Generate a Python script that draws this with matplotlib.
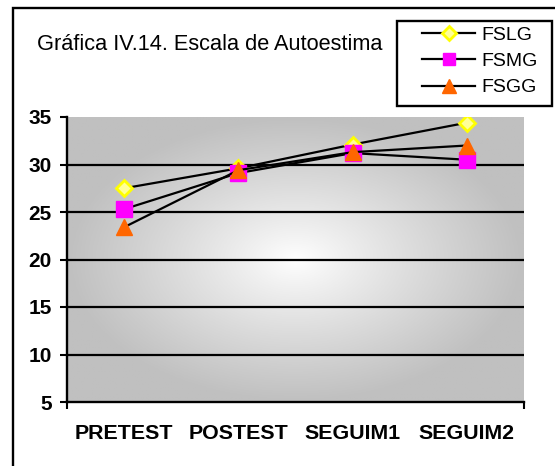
import numpy as np
import matplotlib
matplotlib.use("Agg")
import matplotlib.pyplot as plt
from matplotlib.patches import Rectangle
from matplotlib.colors import LinearSegmentedColormap

categories = ["PRETEST", "POSTEST", "SEGUIM1", "SEGUIM2"]
fslg = [27.5, 29.6, 32.1, 34.4]
fsmg = [25.3, 29.1, 31.2, 30.5]
fsgg = [23.4, 29.4, 31.3, 32.0]
yticks = [5, 10, 15, 20, 25, 30, 35]
title = "Gráfica IV.14. Escala de Autoestima"

plt.rcParams['font.family'] = ['Liberation Sans', 'DejaVu Sans']

W, H = 555, 466
fig = plt.figure(figsize=(W / 100, H / 100), dpi=100)

# outer frame (cut off at right and bottom)
fig.patches.append(Rectangle((12.5 / W, -0.1), 2.0, 1 - 8 / H + 0.1,
                             transform=fig.transFigure, fill=False,
                             edgecolor='black', linewidth=1.7))
# legend frame
fig.patches.append(Rectangle((397 / W, 1 - 106 / H), 155 / W, 85 / H,
                             transform=fig.transFigure, fill=False,
                             edgecolor='black', linewidth=1.7, zorder=5))

ax = fig.add_axes([67 / W, 1 - 402 / H, 457 / W, 285 / H])
x = np.arange(len(categories))
ax.set_xlim(-0.5, len(categories) - 0.5)
ax.set_ylim(5, 35)

# gradient background
nx, ny = 300, 200
gx, gy = np.meshgrid(np.linspace(-1, 1, nx), np.linspace(-1, 1, ny))
d = np.sqrt((gx * 1.0) ** 2 + (gy * 1.0) ** 2)
d = np.clip(d, 0, 1)
cmap = LinearSegmentedColormap.from_list("g", ["#FFFFFF", "#C0C0C0"])
ax.imshow(d ** 0.9, cmap=cmap, extent=[0, 1, 0, 1], transform=ax.transAxes,
          aspect='auto', zorder=0, vmin=0, vmax=1)

for yv in yticks[1:-1]:
    ax.axhline(yv, color='black', linewidth=1.6, zorder=1)

ax.plot(x, fslg, color='black', linewidth=1.6, marker='D', markersize=8.5,
        markerfacecolor='#FFFF99', markeredgecolor='#FFFF00', markeredgewidth=2,
        label='FSLG', zorder=3)
ax.plot(x, fsmg, color='black', linewidth=1.6, marker='s', markersize=11,
        markerfacecolor='#FF00FF', markeredgecolor='#FF00FF',
        label='FSMG', zorder=3)
ax.plot(x, fsgg, color='black', linewidth=1.6, marker='^', markersize=12,
        markerfacecolor='#FF6600', markeredgecolor='#FF6600',
        label='FSGG', zorder=3)

for s in ['top', 'right']:
    ax.spines[s].set_visible(False)
for s in ['left', 'bottom']:
    ax.spines[s].set_linewidth(1.7)
    ax.spines[s].set_zorder(4)

ax.set_yticks(yticks)
ax.set_yticklabels([str(v) for v in yticks], fontsize=15, fontweight='bold')
ax.tick_params(axis='y', direction='out', length=5, width=1.5, pad=6)

ax.set_xticks(x)
ax.set_xticklabels(categories, fontsize=15.4, fontweight='bold')
ax.tick_params(axis='x', which='major', length=0, pad=16)
ax.set_xticks([-0.5, len(categories) - 0.5], minor=True)
ax.tick_params(axis='x', which='minor', direction='out', length=5, width=1.5)

fig.text(37 / W, 1 - 45 / H, title, fontsize=15.7, ha='left', va='center')

handles, labels = ax.get_legend_handles_labels()
leg = fig.legend(handles, labels, loc='upper left',
                 bbox_to_anchor=(422 / W, 1 - 26 / H),
                 fontsize=14, frameon=False, markerscale=0.85,
                 handlelength=2.75, labelspacing=0.45, borderpad=0,
                 handletextpad=0.3, borderaxespad=0)

fig.savefig("out.png", dpi=100)
